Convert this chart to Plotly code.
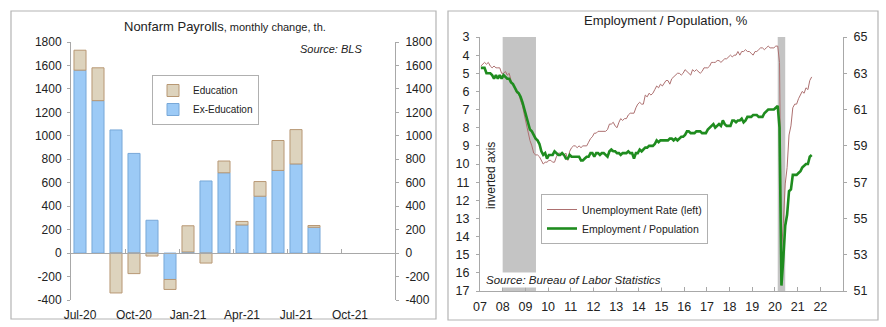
import plotly.graph_objects as go
import pandas as pd

# ---------------- Left chart data ----------------
months = ["Jul-20", "Aug-20", "Sep-20", "Oct-20", "Nov-20", "Dec-20", "Jan-21",
          "Feb-21", "Mar-21", "Apr-21", "May-21", "Jun-21", "Jul-21", "Aug-21"]
ex_education = [1560, 1300, 1050, 850, 280, -225, 10, 615, 685, 240, 485, 705, 760, 220]
education = [170, 280, -340, -175, -25, -85, 223, -85, 100, 30, 125, 255, 293, 15]
left_tick_labels = ["Jul-20", "Oct-20", "Jan-21", "Apr-21", "Jul-21", "Oct-21"]
left_tick_pos = [0, 3, 6, 9, 12, 15]
left_y_ticks = [-400, -200, 0, 200, 400, 600, 800, 1000, 1200, 1400, 1600, 1800]

# ---------------- Right chart data ----------------
series_start = "2007-01-01"
unemployment_rate = [
    4.6, 4.5, 4.4, 4.5, 4.4, 4.6, 4.7, 4.6, 4.7, 4.7, 4.7, 5.0,
    5.0, 4.9, 5.1, 5.0, 5.4, 5.6, 5.8, 6.1, 6.1, 6.5, 6.8, 7.3,
    7.8, 8.3, 8.7, 9.0, 9.4, 9.5, 9.5, 9.6, 9.8, 10.0, 9.9, 9.9,
    9.8, 9.8, 9.9, 9.9, 9.6, 9.4, 9.4, 9.5, 9.5, 9.4, 9.8, 9.3,
    9.1, 9.0, 9.0, 9.1, 9.0, 9.1, 9.0, 9.0, 9.0, 8.8, 8.6, 8.5,
    8.3, 8.3, 8.2, 8.2, 8.2, 8.2, 8.2, 8.1, 7.8, 7.8, 7.7, 7.9,
    8.0, 7.7, 7.5, 7.6, 7.5, 7.5, 7.3, 7.2, 7.2, 7.2, 6.9, 6.7,
    6.6, 6.7, 6.7, 6.2, 6.3, 6.1, 6.2, 6.1, 5.9, 5.7, 5.8, 5.6,
    5.7, 5.5, 5.4, 5.4, 5.6, 5.3, 5.2, 5.1, 5.0, 5.0, 5.1, 5.0,
    4.8, 4.9, 5.0, 5.1, 4.8, 4.9, 4.8, 4.9, 5.0, 4.9, 4.7, 4.7,
    4.7, 4.6, 4.4, 4.4, 4.4, 4.3, 4.3, 4.4, 4.3, 4.2, 4.2, 4.1,
    4.0, 4.1, 4.0, 4.0, 3.8, 4.0, 3.8, 3.8, 3.7, 3.8, 3.8, 3.9,
    4.0, 3.8, 3.8, 3.7, 3.6, 3.6, 3.7, 3.6, 3.5, 3.6, 3.6, 3.6,
    3.5, 3.5, 4.4, 14.8, 13.3, 11.1, 10.2, 8.4, 7.9, 6.9, 6.7, 6.7,
    6.4, 6.2, 6.0, 6.1, 5.8, 5.9, 5.4, 5.2,
]
employment_population = [
    63.3, 63.3, 63.3, 63.0, 63.0, 63.0, 62.9, 62.7, 62.9, 62.7, 62.9, 62.7,
    62.9, 62.8, 62.7, 62.7, 62.5, 62.4, 62.2, 62.0, 61.9, 61.7, 61.4, 61.0,
    60.6, 60.3, 59.9, 59.8, 59.6, 59.4, 59.3, 59.1, 58.7, 58.5, 58.6, 58.3,
    58.5, 58.5, 58.5, 58.7, 58.6, 58.5, 58.5, 58.6, 58.5, 58.3, 58.3, 58.5,
    58.4, 58.4, 58.4, 58.4, 58.4, 58.2, 58.2, 58.3, 58.4, 58.4, 58.6, 58.6,
    58.4, 58.6, 58.6, 58.5, 58.6, 58.6, 58.5, 58.4, 58.7, 58.8, 58.7, 58.7,
    58.6, 58.6, 58.5, 58.6, 58.6, 58.6, 58.7, 58.6, 58.6, 58.3, 58.6, 58.6,
    58.8, 58.7, 58.8, 58.9, 58.9, 59.0, 59.0, 59.0, 59.1, 59.3, 59.2, 59.3,
    59.3, 59.3, 59.3, 59.3, 59.4, 59.4, 59.3, 59.4, 59.3, 59.4, 59.5, 59.5,
    59.6, 59.8, 59.8, 59.7, 59.7, 59.7, 59.8, 59.8, 59.8, 59.7, 59.7, 59.7,
    59.9, 60.0, 60.1, 60.2, 60.0, 60.1, 60.2, 60.1, 60.4, 60.2, 60.1, 60.1,
    60.1, 60.4, 60.4, 60.3, 60.4, 60.4, 60.5, 60.3, 60.4, 60.6, 60.6, 60.6,
    60.7, 60.7, 60.7, 60.6, 60.6, 60.6, 60.8, 60.9, 61.0, 61.0, 61.0, 61.0,
    61.1, 61.2, 60.0, 51.3, 52.8, 54.6, 55.2, 56.5, 56.6, 57.4, 57.4, 57.4,
    57.5, 57.6, 57.8, 57.9, 58.0, 58.0, 58.4, 58.5,
]
recessions = [("2008-01-01", "2009-06-20"), ("2020-02-15", "2020-06-15")]
year_ticks = [f"{y}-01-01" for y in range(2007, 2023)]
year_labels = [f"{y % 100:02d}" for y in range(2007, 2023)]
unemp_ticks = list(range(3, 18))
epop_ticks = [51, 53, 55, 57, 59, 61, 63, 65]

dates = pd.date_range(series_start, periods=len(unemployment_rate), freq="MS") + pd.Timedelta(days=14)

W, H = 886, 327
FONT = "Liberation Sans, Arial, sans-serif"
TXT = "#222222"
AX = "#a8a8a8"


def px(x):
    return x / W


def py(y):
    return 1 - y / H


fig = go.Figure()

# ---- Left chart bars ----
fig.add_trace(go.Bar(
    x=list(range(len(months))), y=ex_education, name="Ex-Education",
    marker=dict(color="#9ccaf6", line=dict(color="#78a8d8", width=1)),
    xaxis="x", yaxis="y", legend="legend", hovertext=months,
))
fig.add_trace(go.Bar(
    x=list(range(len(months))), y=education, name="Education",
    marker=dict(color="#ddd3bd", line=dict(color="#b89874", width=1)),
    xaxis="x", yaxis="y", legend="legend", hovertext=months,
))
# invisible helpers so the extra axes are drawn
fig.add_trace(go.Scatter(x=[0], y=[0], xaxis="x", yaxis="y4", mode="markers",
                         marker=dict(opacity=0), showlegend=False, hoverinfo="skip"))
fig.add_trace(go.Scatter(x=[0], y=[0], xaxis="x3", yaxis="y", mode="markers",
                         marker=dict(opacity=0), showlegend=False, hoverinfo="skip"))

# ---- Right chart lines ----
fig.add_trace(go.Scatter(
    x=dates, y=unemployment_rate, name="Unemployment Rate (left)", mode="lines",
    line=dict(color="#ad7070", width=1), xaxis="x2", yaxis="y2", legend="legend2",
))
fig.add_trace(go.Scatter(
    x=dates, y=employment_population, name="Employment / Population", mode="lines",
    line=dict(color="#1f8c1f", width=2.6), xaxis="x2", yaxis="y3", legend="legend2",
))

shapes = []
# panel borders
shapes.append(dict(type="rect", xref="paper", yref="paper", x0=px(11), x1=px(436),
                   y0=py(319), y1=py(11), line=dict(color="#b4b4b4", width=1.2), layer="below"))
shapes.append(dict(type="rect", xref="paper", yref="paper", x0=px(448), x1=px(878),
                   y0=py(320), y1=py(11), line=dict(color="#b4b4b4", width=1.2), layer="below"))
for a, b in recessions:
    shapes.append(dict(type="rect", xref="x2", yref="y2 domain", x0=a, x1=b, y0=0, y1=1,
                       fillcolor="#c4c4c4", line=dict(width=0), layer="below"))

annotations = [
    dict(x=px(225), y=py(26), xref="paper", yref="paper", showarrow=False,
         xanchor="center", yanchor="middle",
         text="Nonfarm Payrolls<span style='font-size:11px'>, monthly change, th.</span>",
         font=dict(size=13, color=TXT, family=FONT)),
    dict(x=px(364), y=py(49), xref="paper", yref="paper", showarrow=False, xanchor="right",
         yanchor="middle",
         text="<i>Source: BLS</i>", font=dict(size=11, color=TXT, family=FONT)),
    dict(x=px(666), y=py(20), xref="paper", yref="paper", showarrow=False,
         xanchor="center", yanchor="middle",
         text="Employment / Population, %", font=dict(size=13, color=TXT, family=FONT)),
    dict(x=px(491), y=py(176), xref="paper", yref="paper", showarrow=False, textangle=-90,
         xanchor="center", yanchor="middle",
         text="inverted axis", font=dict(size=12, color=TXT, family=FONT)),
    dict(x=px(484), y=py(280), xref="paper", yref="paper", showarrow=False, xanchor="left",
         yanchor="middle",
         text="<i>Source: Bureau of Labor Statistics</i>", bgcolor="white",
         font=dict(size=11.5, color=TXT, family=FONT)),
]

left_dom_x = [px(71), px(395)]
left_dom_y = [py(300), py(42)]
zero_pos = left_dom_y[0] + (0 - (-400)) / 2200 * (left_dom_y[1] - left_dom_y[0])
left_y_text = [str(v) for v in left_y_ticks]

fig.update_layout(
    width=W, height=H, margin=dict(l=0, r=0, t=0, b=0, autoexpand=False),
    paper_bgcolor="white", plot_bgcolor="rgba(0,0,0,0)",
    font=dict(family=FONT, size=12, color=TXT),
    barmode="relative", bargap=0.33,
    showlegend=True,
    shapes=shapes, annotations=annotations,
    xaxis=dict(domain=left_dom_x, range=[-0.5, 17.5], tickvals=left_tick_pos,
               ticktext=left_tick_labels, showline=False, showgrid=False, zeroline=False,
               ticks="", ticklabelstandoff=6, tickfont=dict(size=12), anchor="y",
               automargin=False),
    xaxis3=dict(overlaying="x", matches="x", anchor="free", position=zero_pos,
                tickvals=[2.5, 5.5, 8.5, 11.5, 14.5], showticklabels=False,
                showline=True, linecolor=AX, ticks="inside", ticklen=4, tickcolor=AX,
                showgrid=False, zeroline=False, range=[-0.5, 17.5], automargin=False),
    yaxis=dict(domain=left_dom_y, range=[-400, 1800], tickvals=left_y_ticks,
               ticktext=left_y_text,
               showline=True, linecolor=AX, ticks="outside", ticklen=3, tickcolor=AX,
               showgrid=False, zeroline=False, tickfont=dict(size=12), anchor="x",
               automargin=False, ticklabelstandoff=3),
    yaxis4=dict(overlaying="y", side="right", anchor="x", range=[-400, 1800],
                tickvals=left_y_ticks, ticktext=left_y_text,
                showline=True, linecolor=AX, ticks="outside",
                ticklen=3, tickcolor=AX, showgrid=False, zeroline=False,
                tickfont=dict(size=12), ticklabelstandoff=4, automargin=False),
    xaxis2=dict(domain=[px(480), px(843)], type="date", range=["2007-01-01", "2023-01-01"],
                tickvals=year_ticks, ticktext=year_labels, showline=True,
                linecolor=AX, ticks="inside", ticklen=4, tickcolor=AX, showgrid=False,
                zeroline=False, tickfont=dict(size=12.5), anchor="y2", ticklabelstandoff=4,
                automargin=False),
    yaxis2=dict(domain=[py(291), py(37)], range=[17, 3], tickvals=unemp_ticks,
                showline=True, linecolor=AX, ticks="outside", ticklen=3, tickcolor=AX,
                showgrid=False, zeroline=False, tickfont=dict(size=12.5), anchor="x2",
                ticklabelstandoff=4, automargin=False),
    yaxis3=dict(overlaying="y2", side="right", anchor="x2", range=[51, 65],
                tickvals=epop_ticks, showline=True, linecolor=AX, ticks="outside",
                ticklen=3, tickcolor=AX, showgrid=False, zeroline=False,
                tickfont=dict(size=12.5), ticklabelstandoff=4, automargin=False),
    legend=dict(x=px(152), y=py(75), xanchor="left", yanchor="top",
                bgcolor="white", bordercolor="#b0b0b0", borderwidth=1,
                traceorder="reversed", itemwidth=30, tracegroupgap=0,
                font=dict(size=10, color=TXT, family=FONT)),
    legend2=dict(x=px(541), y=py(194), xanchor="left", yanchor="top",
                 bgcolor="white", bordercolor="#b0b0b0", borderwidth=1,
                 itemwidth=30, font=dict(size=10.5, color=TXT, family=FONT)),
)

fig.write_html("out.html")
